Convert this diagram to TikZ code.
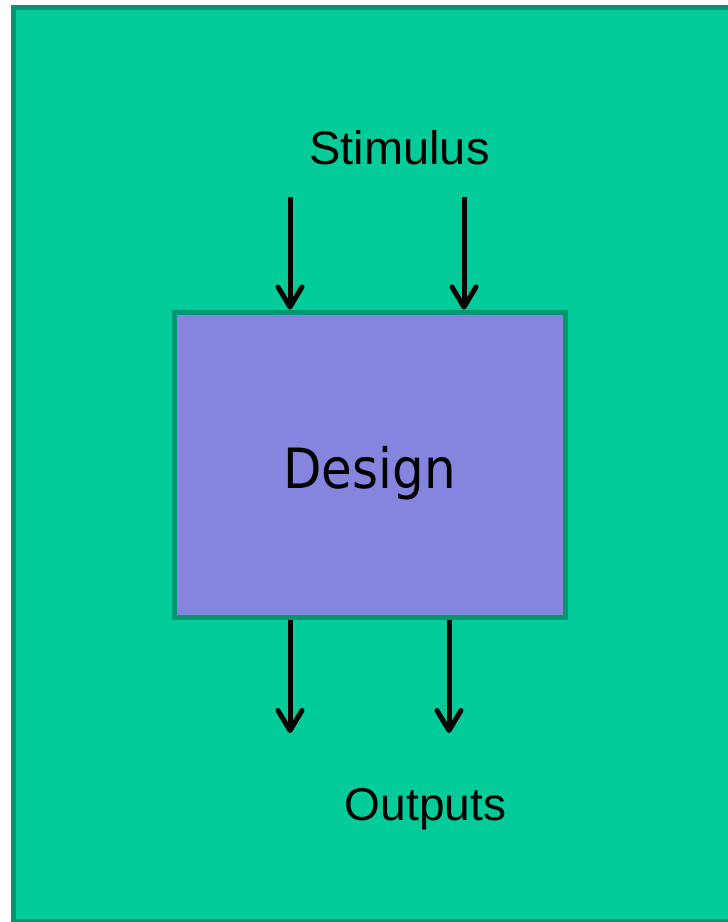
\documentclass[tikz,border=0pt]{standalone}
\usepackage{fontspec}
\setmainfont{Liberation Sans}
\newfontfamily\designfont{DejaVu Sans Condensed}
\usetikzlibrary{arrows.meta}
\definecolor{bggreen}{HTML}{00CC99}
\definecolor{edgegreen}{HTML}{009670}
\definecolor{boxblue}{HTML}{8585E0}
\begin{document}
\begin{tikzpicture}[x=1pt,y=-1pt,
  frame/.style={fill=bggreen,draw=edgegreen,line width=5pt},
  block/.style={fill=boxblue,draw=edgegreen,line width=5pt,inner sep=0pt,
    minimum width=391pt,minimum height=305pt},
  label/.style={inner sep=0pt,anchor=base},
  flow/.style={line width=5pt,-{Straight Barb[length=20pt,width=24pt,line cap=round,line join=round]}}]
\useasboundingbox (0,0) rectangle (728,922);
\draw[frame] (13.5,7.5) rectangle (745,921.5);
\node[block] (design) at (369.5,464.5) {};
\node[inner sep=0pt,anchor=base,font=\designfont\fontsize{55.5}{60}\selectfont] (dtext) at (369.5,488) {Design};
\node[label,font=\fontsize{47}{52}\selectfont] (stim) at (399.5,164) {Stimulus};
\node[label,font=\fontsize{46}{52}\selectfont] (outs) at (425.5,820) {Outputs};
\coordinate (s1) at (290,197);
\coordinate (s2) at (464,197);
\coordinate (o1) at (290,733);
\coordinate (o2) at (449,733);
\draw[flow] (s1) -- (s1 |- design.north);
\draw[flow] (s2) -- (s2 |- design.north);
\draw[flow] (o1 |- design.south) -- (o1);
\draw[flow] (o2 |- design.south) -- (o2);
\end{tikzpicture}
\end{document}
